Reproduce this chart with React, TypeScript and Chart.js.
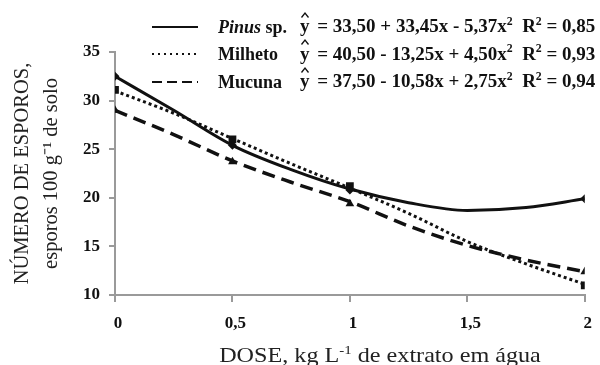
import React, { useEffect, useRef } from "react";
import { Chart, registerables } from "chart.js";

Chart.register(...registerables);

// ---- data ----
const curveDoses = [0, 0.25, 0.5, 0.75, 1, 1.25, 1.5, 1.75, 2];
const pinusCurve = [32.5, 29.0, 25.4, 22.9, 20.9, 19.5, 18.7, 19.0, 19.9];
const milhetoCurve = [31.0, 28.7, 26.1, 23.5, 21.0, 18.4, 15.5, 13.2, 11.1];
const mucunaCurve = [29.0, 26.5, 23.8, 21.6, 19.6, 17.1, 15.1, 13.6, 12.4];

const obsDoses = [0, 0.5, 1, 2];
const pinusObs = [32.5, 25.4, 20.8, 19.9];
const milhetoObs = [31.1, 26.0, 21.2, 11.0];
const mucunaObs = [29.0, 23.7, 19.4, 12.4];

const xTicks = [0, 0.5, 1, 1.5, 2];
const xTickLabels = ["0", "0,5", "1", "1,5", "2"];
const yTickValues = [10, 15, 20, 25, 30, 35];
const yTickLabels = ["10", "15", "20", "25", "30", "35"];

const yTitle = ["NÚMERO DE ESPOROS,", "esporos 100 g\u207B\u00B9 de solo"];
const seriesNames = ["Pinus", "Milheto", "Mucuna"];
const equations = [
  ["= 33,50 + 33,45x - 5,37x", "0,85"],
  ["= 40,50 - 13,25x + 4,50x", "0,93"],
  ["= 37,50 - 10,58x + 2,75x", "0,94"],
];

const SERIF = "'Liberation Serif', 'Times New Roman', serif";
const INK = "#111";
const AXIS = "#9a9a9a";

const pts = (xs: number[], ys: number[]) => xs.map((x, i) => ({ x, y: ys[i] }));

const Sup = (p: { children: React.ReactNode }) => (
  <span style={{ fontSize: "0.62em", position: "relative", top: "-0.6em" }}>{p.children}</span>
);

function LegendRow(props: { baseline: number; dash: string; label: React.ReactNode; eq: string[] }) {
  const top = props.baseline - 16;
  return (
    <div style={{ position: "absolute", left: 0, top, width: 600, height: 22 }}>
      <svg style={{ position: "absolute", left: 152, top: 0, overflow: "visible" }} width={48} height={12}>
        <line x1={0} y1={10} x2={46} y2={10} stroke={INK} strokeWidth={2} strokeDasharray={props.dash} />
      </svg>
      <div style={{ position: "absolute", left: 218, top: 0, lineHeight: "20px", fontSize: 18, fontWeight: "bold", fontFamily: SERIF, color: INK, whiteSpace: "nowrap" }}>
        {props.label}
      </div>
      <svg style={{ position: "absolute", left: 300, top: -5, overflow: "visible" }} width={10} height={7}>
        <polyline points="1.5,5.5 5,1 8.5,5.5" fill="none" stroke={INK} strokeWidth={1.3} />
      </svg>
      <div style={{ position: "absolute", left: 300, top: -0.5, lineHeight: "20px", fontSize: 19, fontWeight: "bold", fontFamily: SERIF, color: INK, whiteSpace: "pre" }}>
        <span style={{ marginRight: 3 }}>y</span>
        {" " + props.eq[0]}
        <Sup>2</Sup>
        {"  R"}
        <Sup>2</Sup>
        {" = " + props.eq[1]}
      </div>
    </div>
  );
}

export default function App() {
  const ref = useRef<HTMLCanvasElement | null>(null);

  useEffect(() => {
    if (!ref.current) return;
    const lineBase = {
      type: "line" as const,
      borderColor: INK,
      backgroundColor: INK,
      borderWidth: 3,
      pointRadius: 0,
      fill: false,
      cubicInterpolationMode: "monotone" as const,
    };
    const markerBase = {
      type: "line" as const,
      showLine: false,
      borderColor: INK,
      backgroundColor: INK,
      borderWidth: 0,
      pointRadius: 5,
    };
    const chart = new Chart(ref.current, {
      type: "line",
      data: {
        datasets: [
          { ...lineBase, label: seriesNames[0], data: pts(curveDoses, pinusCurve) },
          { ...lineBase, label: seriesNames[1], data: pts(curveDoses, milhetoCurve), borderDash: [3, 3] },
          { ...lineBase, label: seriesNames[2], data: pts(curveDoses, mucunaCurve), borderDash: [13, 7], borderWidth: 3.5 },
          { ...markerBase, label: seriesNames[0] + " obs", data: pts(obsDoses, pinusObs), pointStyle: "rectRot", pointRadius: 4.5 },
          { ...markerBase, label: seriesNames[1] + " obs", data: pts(obsDoses, milhetoObs), pointStyle: "rect", pointRadius: 5.5 },
          { ...markerBase, label: seriesNames[2] + " obs", data: pts(obsDoses, mucunaObs), pointStyle: "triangle", pointRadius: 5 },
        ] as any,
      },
      options: {
        animation: false,
        responsive: false,
        maintainAspectRatio: false,
        layout: { padding: { top: 52, right: 5, left: 0, bottom: 0 } },
        plugins: { legend: { display: false }, tooltip: { enabled: false } },
        scales: {
          x: {
            type: "linear",
            min: 0,
            max: 2,
            afterBuildTicks: (s: any) => {
              s.ticks = xTicks.map((v) => ({ value: v }));
            },
            afterFit: (s: any) => {
              s.height = 70;
            },
            ticks: {
              autoSkip: false,
              maxRotation: 0,
              padding: 11,
              labelOffset: 3,
              color: INK,
              font: { family: SERIF, size: 17, weight: "bold" },
              callback: (v: any) => {
                const i = xTicks.indexOf(Number(v));
                return i >= 0 ? xTickLabels[i] : "";
              },
            },
            grid: { display: true, drawOnChartArea: false, drawTicks: true, tickLength: 7, color: AXIS, lineWidth: 2 },
            border: { display: true, color: AXIS, width: 2 },
          },
          y: {
            type: "linear",
            min: 10,
            max: 35,
            afterFit: (s: any) => {
              s.width = 115;
            },
            ticks: {
              stepSize: 5,
              padding: 9,
              color: INK,
              font: { family: SERIF, size: 17, weight: "bold" },
              callback: (v: any) => {
                const i = yTickValues.indexOf(Number(v));
                return i >= 0 ? yTickLabels[i] : "";
              },
            },
            grid: { display: true, drawOnChartArea: false, drawTicks: true, tickLength: 6, color: AXIS, lineWidth: 2 },
            border: { display: true, color: AXIS, width: 2 },
            title: {
              display: true,
              text: yTitle,
              color: "#222",
              font: { family: SERIF, size: 20.5, weight: "normal", lineHeight: 1.37 },
              padding: { top: 9, bottom: 0 },
            },
          },
        },
      } as any,
    });
    return () => chart.destroy();
  }, []);

  return (
    <div style={{ position: "fixed", left: 0, top: 0, width: 600, height: 365, background: "#fff", overflow: "hidden" }}>
      <canvas ref={ref} width={600} height={365} style={{ display: "block", width: 600, height: 365 }} />
      <LegendRow baseline={32.5} dash="" label={<span><i>Pinus</i> sp.</span>} eq={equations[0]} />
      <LegendRow baseline={60} dash="2 4" label={<span>Milheto</span>} eq={equations[1]} />
      <LegendRow baseline={87.5} dash="10 5" label={<span>Mucuna</span>} eq={equations[2]} />
      <div
        style={{
          position: "absolute",
          left: 380,
          top: 345,
          transform: "translateX(-50%) scaleX(1.15)",
          fontFamily: SERIF,
          fontSize: 21,
          lineHeight: "21px",
          color: "#222",
          whiteSpace: "nowrap",
        }}
      >
        DOSE, kg L<Sup>-1</Sup> de extrato em água
      </div>
    </div>
  );
}
